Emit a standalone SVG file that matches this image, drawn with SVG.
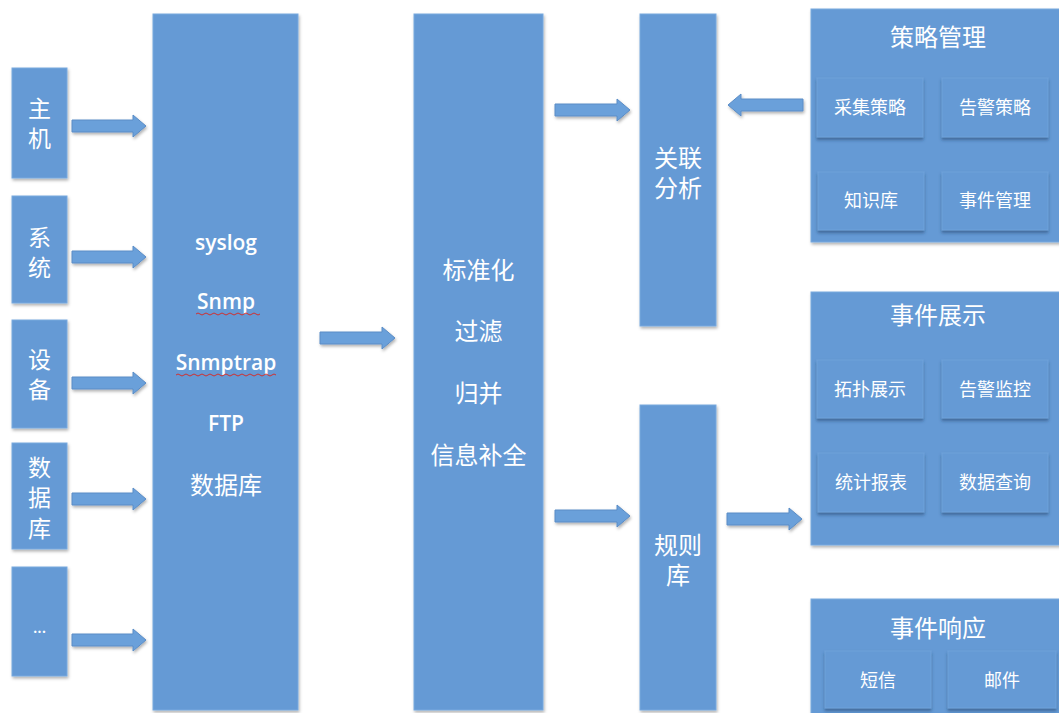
<svg xmlns="http://www.w3.org/2000/svg" width="1059" height="713" viewBox="0 0 1059 713">
<defs>
<filter id="sh" x="-10%" y="-10%" width="130%" height="130%">
<feDropShadow dx="1" dy="2" stdDeviation="1.5" flood-color="#000" flood-opacity="0.3"/>
</filter>
<filter id="sh2" x="-10%" y="-10%" width="130%" height="140%">
<feDropShadow dx="0" dy="2.5" stdDeviation="1.5" flood-color="#1f3f66" flood-opacity="0.55"/>
</filter>
</defs>
<style>
.box{fill:#659ad5;stroke:#79a9de;stroke-width:1;filter:url(#sh)}
.sub{fill:#659ad5;stroke:#6fa2da;stroke-width:1;filter:url(#sh2)}
.arr{fill:#6aa0da;stroke:#5a8cc6;stroke-width:1;filter:url(#sh)}
.t{fill:#fff;font-family:"Noto Sans CJK SC","Noto Sans",sans-serif;text-anchor:middle;dominant-baseline:central}
.lt{font-size:23px}
.ct{font-size:24px}
.st{font-size:18px}
.en{fill:#fff;font-family:"Open Sans","Noto Sans",sans-serif;font-weight:600;font-size:21px;text-anchor:middle;dominant-baseline:central}
.wave{fill:none;stroke:#d03030;stroke-width:1}
</style>
<rect width="1059" height="713" fill="#fff"/>

<g id="connectors">
<path class="arr" d="M72,120 H133 V115 L146,126 L133,137 V132 H72 Z"/>
<path class="arr" d="M72,251 H133 V246 L146,257 L133,268 V263 H72 Z"/>
<path class="arr" d="M72,377 H133 V372 L146,383 L133,394 V389 H72 Z"/>
<path class="arr" d="M72,493 H133 V488 L146,499 L133,510 V505 H72 Z"/>
<path class="arr" d="M72,634 H133 V629 L146,640 L133,651 V646 H72 Z"/>
<path class="arr" d="M320,332 H382 V327 L395,338 L382,349 V344 H320 Z"/>
<path class="arr" d="M555,104 H617 V99 L630,110 L617,121 V116 H555 Z"/>
<path class="arr" d="M555,510 H617 V505 L630,516 L617,527 V522 H555 Z"/>
<path class="arr" d="M803,99 H741 V94 L728,105 L741,116 V111 H803 Z"/>
<path class="arr" d="M727,513 H789 V508 L802,519 L789,530 V525 H727 Z"/>
</g>

<g id="n-host"><rect class="box" x="12" y="68" width="55" height="110"/>
<text class="t lt" x="39.5" y="107">主<tspan x="39.5" dy="30">机</tspan></text></g>
<g id="n-system"><rect class="box" x="12" y="196" width="55" height="107"/>
<text class="t lt" x="39.5" y="236">系<tspan x="39.5" dy="30">统</tspan></text></g>
<g id="n-device"><rect class="box" x="12" y="320" width="55" height="108"/>
<text class="t lt" x="39.5" y="358">设<tspan x="39.5" dy="30">备</tspan></text></g>
<g id="n-db"><rect class="box" x="12" y="443" width="55" height="106"/>
<text class="t lt" x="39.5" y="466">数<tspan x="39.5" dy="30">据</tspan><tspan x="39.5" dy="31">库</tspan></text></g>
<g id="n-more"><rect class="box" x="12" y="567" width="55" height="109"/>
<text class="en" x="39.5" y="627" style="font-size:16px">...</text></g>

<g id="n-collect"><rect class="box" x="153" y="14" width="145" height="696"/>
<text class="en" x="226" y="242">syslog</text>
<text class="en" x="226" y="301">Snmp</text>
<path class="wave" d="M196,314 q2,-2 4,0 t4,0 t4,0 t4,0 t4,0 t4,0 t4,0 t4,0 t4,0 t4,0 t4,0 t4,0 t4,0 t4,0 t4,0 t4,0"/>
<text class="en" x="226" y="362">Snmptrap</text>
<path class="wave" d="M176,375 q2,-2 4,0 t4,0 t4,0 t4,0 t4,0 t4,0 t4,0 t4,0 t4,0 t4,0 t4,0 t4,0 t4,0 t4,0 t4,0 t4,0 t4,0 t4,0 t4,0 t4,0 t4,0 t4,0 t4,0 t4,0 t4,0"/>
<text class="en" x="226" y="423">FTP</text>
<text class="t ct" x="226" y="483">数据库</text></g>

<g id="n-normalize"><rect class="box" x="414" y="14" width="129" height="696"/>
<text class="t ct" x="478.5" y="268">标准化</text>
<text class="t ct" x="478.5" y="329">过滤</text>
<text class="t ct" x="478.5" y="391">归并</text>
<text class="t ct" x="478.5" y="453">信息补全</text></g>

<g id="n-correlate"><rect class="box" x="640" y="14" width="76" height="312"/>
<text class="t ct" x="678" y="156">关联<tspan x="678" dy="30">分析</tspan></text></g>
<g id="n-rules"><rect class="box" x="640" y="405" width="76" height="305"/>
<text class="t ct" x="678" y="543">规则<tspan x="678" dy="30">库</tspan></text></g>

<g id="n-policy"><rect class="box" x="811" y="9" width="252" height="233"/>
<text class="t ct" x="938" y="35">策略管理</text>
<rect class="sub" x="817" y="78" width="106" height="59"/><text class="t st" x="870" y="106">采集策略</text>
<rect class="sub" x="942" y="78" width="106" height="59"/><text class="t st" x="995" y="106">告警策略</text>
<rect class="sub" x="818" y="172" width="106" height="58"/><text class="t st" x="871" y="199">知识库</text>
<rect class="sub" x="942" y="172" width="106" height="58"/><text class="t st" x="995" y="199">事件管理</text></g>

<g id="n-display"><rect class="box" x="811" y="292" width="252" height="253"/>
<text class="t ct" x="938" y="313">事件展示</text>
<rect class="sub" x="817" y="360" width="106" height="58"/><text class="t st" x="870" y="388">拓扑展示</text>
<rect class="sub" x="942" y="360" width="106" height="58"/><text class="t st" x="995" y="388">告警监控</text>
<rect class="sub" x="818" y="453" width="106" height="59"/><text class="t st" x="871" y="481">统计报表</text>
<rect class="sub" x="942" y="453" width="106" height="59"/><text class="t st" x="995" y="481">数据查询</text></g>

<g id="n-response"><rect class="box" x="811" y="599" width="252" height="120"/>
<text class="t ct" x="938" y="626">事件响应</text>
<rect class="sub" x="825" y="651" width="106" height="57"/><text class="t st" x="878" y="679">短信</text>
<rect class="sub" x="948" y="651" width="108" height="57"/><text class="t st" x="1002" y="679">邮件</text></g>
</svg>
